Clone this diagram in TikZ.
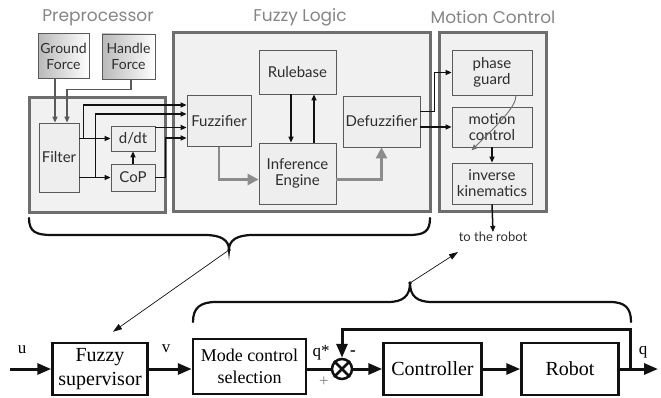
\documentclass[tikz,border=0pt]{standalone}
\usepackage{fontspec}
\setmainfont{Liberation Serif}
\newfontfamily\unitsans{Lato}
\newfontfamily\headsans{Poppins}
\usetikzlibrary{arrows.meta,calc,positioning}
\definecolor{ink}{HTML}{111111}
\definecolor{textgray}{HTML}{2E2E2E}
\definecolor{headgray}{HTML}{858585}
\definecolor{framegray}{HTML}{6E6E6E}
\definecolor{panelfill}{HTML}{F1F1F1}
\definecolor{stageline}{HTML}{5A5A5A}
\definecolor{stagefill}{HTML}{EEEEEE}
\definecolor{guidegray}{HTML}{8C8C8C}
\newcommand{\headfont}{\headsans\fontsize{17}{19}\selectfont}
\newcommand{\stagefont}{\unitsans\fontsize{15}{16}\selectfont}
\newcommand{\smallsans}{\unitsans\fontsize{13}{15}\selectfont}
\newcommand{\blkfont}{\fontsize{20}{24}\selectfont}
\newcommand{\lblfont}{\fontsize{17}{19}\selectfont}
\tikzset{
  heading/.style={font=\headfont,text=headgray,inner sep=0pt},
  panel/.style={draw=framegray,line width=3pt,fill=panelfill,inner sep=0pt},
  stage/.style={draw=stageline,line width=0.8pt,fill=stagefill,align=center,
                font=\stagefont,text=textgray,inner sep=0pt},
  force/.style={stage,fill=none,left color=gray!55,right color=white,font=\fontsize{14}{16}\unitsans},
  sig/.style={-{Triangle[length=6pt,width=5pt]},line width=1.5pt,draw=ink},
  gsig/.style={-{Triangle[length=6pt,width=5pt]},line width=1.5pt,draw=stageline},
  gfat/.style={-{Triangle[length=11pt,width=11pt]},line width=2.5pt,draw=guidegray},
  gthin/.style={-{Triangle[length=6pt,width=5pt]},line width=0.9pt,draw=framegray},
  blk/.style={draw=ink,line width=2.5pt,fill=white,align=center,font=\blkfont,inner sep=0pt},
  bsig/.style={-{Triangle[length=14pt,width=11pt]},line width=3pt,draw=ink},
  brace/.style={line width=2.2pt,draw=ink,line cap=round},
  pointer/.style={-{Triangle[length=9pt,width=6pt]},line width=0.7pt,draw=ink},
  lbl/.style={font=\lblfont,inner sep=0pt},
}
\begin{document}
\begin{tikzpicture}[x=1pt,y=-1pt]
  \useasboundingbox (0,0) rectangle (661,398);
  % ---------- upper panel: the fuzzy supervisor ----------
  \node[heading] (hpre) at (98,18) {Preprocessor};
  \node[heading] (hfuz) at (300,17) {Fuzzy Logic};
  \node[heading] (hmot) at (493,17) {Motion Control};

  \node[panel,minimum width=136pt,minimum height=115pt] (pre) at (97,155) {};
  \node[panel,minimum width=257pt,minimum height=179pt] (fuzlog) at (301.5,122.5) {};
  \node[panel,minimum width=107pt,minimum height=179pt] (motctl) at (492.5,122.5) {};

  \node[force,minimum width=51pt,minimum height=45pt] (ground) at (63.5,56) {Ground\\Force};
  \node[force,minimum width=53pt,minimum height=45pt] (handle) at (128.5,56.5) {Handle\\Force};
  \node[stage,minimum width=40pt,minimum height=69pt] (filter) at (59,157.5) {Filter};
  \node[stage,minimum width=44pt,minimum height=25pt] (ddt) at (133,138.5) {d/dt};
  \node[stage,minimum width=44pt,minimum height=27pt] (cop) at (133,177.5) {CoP};

  \node[stage,minimum width=64pt,minimum height=51pt] (fuzz) at (219,121) {Fuzzifier};
  \node[stage,minimum width=77pt,minimum height=44pt] (rule) at (297.5,72) {Rulebase};
  \node[stage,minimum width=77pt,minimum height=61pt] (infer) at (297.5,173.5) {Inference\\Engine};
  \node[stage,minimum width=77pt,minimum height=51pt] (defuzz) at (381.5,121.5) {Defuzzifier};

  \node[stage,minimum width=80pt,minimum height=45pt] (phase) at (492,72.5) {phase\\guard};
  \node[stage,minimum width=80pt,minimum height=40pt] (motion) at (492,127) {motion\\control};
  \node[stage,minimum width=80pt,minimum height=41pt] (invkin) at (492,183.5) {inverse\\kinematics};
  \node[font=\smallsans,text=textgray,inner sep=0pt] (torobot) at (493,237) {to the robot};

  % preprocessor signals
  \draw[gsig] ([xshift=-8.5pt]ground.south) -- ([xshift=-4pt]filter.north);
  \draw[gsig] ([xshift=2.5pt]handle.south) -- ++(0,10) -| ([xshift=8pt]filter.north);
  \draw[sig] (filter.east |- ddt.west) -- (ddt.west);
  \draw[sig] (filter.east |- cop.west) -- (cop.west);
  \draw[sig] (cop.north) -- (ddt.south);
  \draw[sig] ($(filter.east |- ddt.west)+(4,0)$) |- ([yshift=16pt]fuzz.west);
  \draw[sig] ($(filter.east |- cop.west)+(16,0)$) |- ([yshift=7pt]fuzz.west);
  \draw[sig] ([yshift=11pt]ddt.east) -- ([yshift=11pt]ddt.east -| fuzz.west);
  \draw[sig] (cop.east) -- ++(10,0) |- ([yshift=-17pt]fuzz.west);

  % fuzzy logic signals
  \draw[sig] ([xshift=-6.5pt]rule.south) -- ([xshift=-6.5pt]infer.north);
  \draw[sig] ([xshift=16.5pt]infer.north) -- ([xshift=16.5pt]rule.south);
  \draw[gfat] (fuzz.south) |- ([yshift=-6pt]infer.west);
  \draw[gfat] ([yshift=-6pt]infer.east) -| (defuzz.south);

  % motion control signals
  \draw[sig] ([yshift=10pt]defuzz.east) -- ++(14,0) |- (phase.west);
  \draw[sig] (defuzz.east |- motion.west) -- (motion.west);
  \draw[sig] (motion.south) -- (invkin.north);
  \draw[sig] (invkin.south) -- (torobot.north);
  \draw[gthin] ([xshift=24pt]phase.south) .. controls +(0,12) and +(26,-26) .. ($(motion.south west)+(20,3)$);

  % ---------- braces ----------
  \coordinate (bracetop) at (229,250);
  \coordinate (bracebot) at (410,283);
  \draw[brace] (29,218) .. controls (29,232) and (36,235) .. (52,235) -- (205,235)
               .. controls (221,235) and (229,240) .. (bracetop)
               .. controls (229,240) and (237,235) .. (253,235) -- (408,235)
               .. controls (424,235) and (430,232) .. (430,218);
  \draw[brace] (193,322) .. controls (193,308) and (200,302) .. (216,302) -- (388,302)
               .. controls (403,302) and (410,296) .. (bracebot)
               .. controls (410,296) and (417,302) .. (432,302) -- (610,302)
               .. controls (625,302) and (631,308) .. (631,322);
  \fill[ink] (bracetop) circle (1.8pt);
  \fill[ink] (bracebot) circle (1.8pt);

  % ---------- lower panel: control loop ----------
  \node[blk,minimum width=95pt,minimum height=52pt] (fsup) at (100,369) {Fuzzy\\supervisor};
  \node[blk,minimum width=113pt,minimum height=55pt,font=\fontsize{18}{22}\selectfont] (mode) at (249.5,366.5) {Mode control\\selection};
  \node[draw=ink,line width=2.5pt,circle,minimum size=20pt,inner sep=0pt] (sum) at (342,369) {};
  \draw[ink,line width=2.5pt] (sum.north west) -- (sum.south east) (sum.north east) -- (sum.south west);
  \node[blk,minimum width=98pt,minimum height=52pt] (ctrl) at (432.5,369) {Controller};
  \node[blk,minimum width=97pt,minimum height=52pt] (robot) at (570,369) {Robot};

  \draw[pointer] (bracetop) -- ($(fsup.north)+(13,-10)$);
  \draw[pointer] (bracebot) -- ($(torobot.south)+(-35,10)$);

  \coordinate (uin) at (10,369);
  \coordinate (qtap) at (630,369);
  \coordinate (qend) at (658,369);
  \draw[bsig] (uin) -- (fsup.west);
  \draw[bsig] (fsup.east) -- (fsup.east -| mode.west);
  \draw[line width=3pt,ink] (mode.east |- sum.west) -- (sum.west);
  \draw[bsig] (sum.east) -- (ctrl.west);
  \draw[bsig] (ctrl.east) -- (robot.west);
  \draw[bsig] (robot.east) -- (qend);
  \draw[bsig] (qtap) -- ++(0,-40) -| (sum.north);

  \node[lbl] (ulbl) at (22,350) {u};
  \node[lbl] (vlbl) at (166,349) {v};
  \node[lbl] (qslbl) at (321,353) {q*};
  \node[lbl,text=gray] (plus) at (324,382) {+};
  \node[lbl,font=\bfseries\lblfont] (minus) at (353,353) {-};
  \node[lbl] (qlbl) at (643,352) {q};
\end{tikzpicture}
\end{document}
